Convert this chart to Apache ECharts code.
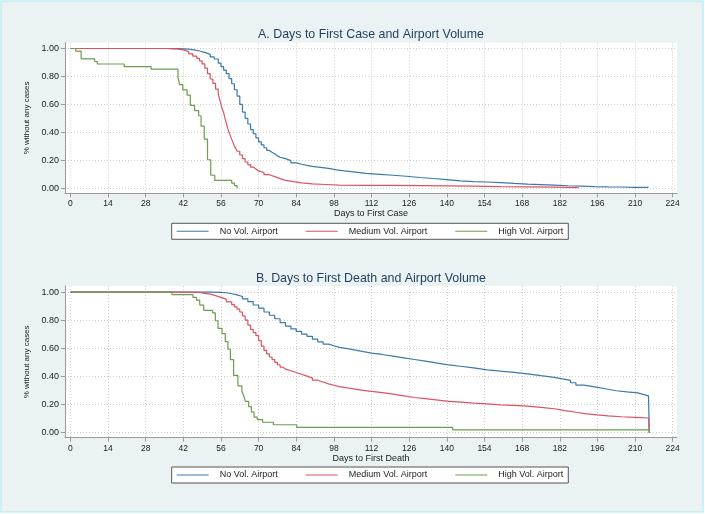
<!DOCTYPE html>
<html>
<head>
<meta charset="utf-8">
<script src="https://cdn.jsdelivr.net/npm/echarts@6/dist/echarts.min.js"></script>
<style>
html,body{margin:0;padding:0;background:#ffffff;}
#chart{width:705px;height:514px;}
</style>
</head>
<body>
<div id="chart"></div>
<script>
// ---- Data ----
const seriesNames = ['No Vol. Airport', 'Medium Vol. Airport', 'High Vol. Airport'];
const xTicks = [0, 14, 28, 42, 56, 70, 84, 98, 112, 126, 140, 154, 168, 182, 196, 210, 224];
const yTicks = [0, 0.2, 0.4, 0.6, 0.8, 1.0];
const titleA = 'A. Days to First Case and Airport Volume';
const titleB = 'B. Days to First Death and Airport Volume';
const xNameA = 'Days to First Case';
const xNameB = 'Days to First Death';
const yName = '% without any cases';

// Panel A: days to first case (day, survival)
const caseNoVol = [[0,1],[38,1],[40,0.998],[42,0.995],[44,0.99],[46,0.982],[48,0.972],[50,0.958],[52,0.94],[53.5,0.925],[55,0.895],[56,0.87],[57,0.845],[58,0.82],[59,0.785],[60,0.748],[61,0.705],[62,0.66],[63,0.6],[64,0.545],[65,0.5],[66,0.46],[67,0.42],[68,0.39],[69,0.36],[70,0.332],[71,0.31],[72,0.29],[73,0.271],[74,0.257],[75,0.245],[76,0.232],[77,0.222],[78,0.212],[80,0.198],[82,0.182],[84,0.172],[86,0.164],[88,0.157],[90,0.15],[93,0.142],[96,0.132],[99,0.124],[102,0.116],[106,0.107],[110,0.1],[115,0.093],[120,0.086],[125,0.077],[130,0.07],[135,0.062],[140,0.053],[145,0.048],[150,0.045],[155,0.041],[160,0.035],[165,0.03],[170,0.026],[175,0.022],[180,0.018],[185,0.015],[190,0.012],[195,0.01],[200,0.009],[205,0.007],[210,0.006],[215,0.005]];
const caseMedVol = [[0,1],[34,1],[36,0.998],[38,0.995],[40,0.99],[42,0.978],[44,0.962],[45.5,0.945],[47,0.93],[48,0.912],[49,0.89],[50,0.86],[51,0.82],[52,0.782],[53,0.75],[54,0.71],[55,0.675],[55.5,0.635],[56,0.6],[56.5,0.565],[57,0.54],[57.5,0.5],[58,0.465],[58.5,0.43],[59,0.4],[59.5,0.375],[60,0.35],[60.5,0.325],[61,0.3],[61.5,0.285],[62,0.265],[63,0.238],[64,0.212],[65,0.188],[66,0.168],[67,0.152],[68,0.138],[69,0.124],[70,0.113],[72,0.097],[74,0.083],[76,0.069],[78,0.057],[80,0.047],[83,0.038],[86,0.031],[90,0.027],[95,0.023],[100,0.021],[110,0.02],[120,0.019],[130,0.017],[140,0.015],[150,0.012],[160,0.01],[170,0.008],[180,0.005],[189,0.002]];
const caseHighVol = [[0,1],[2,0.981],[4,0.926],[9,0.907],[10,0.889],[20,0.87],[30,0.852],[40,0.796],[40.6,0.741],[41.8,0.704],[43.4,0.667],[44.6,0.593],[46.2,0.556],[47.7,0.519],[48.6,0.444],[49.8,0.352],[51,0.204],[52.2,0.093],[53.7,0.056],[60,0.037],[61,0.019],[62,0]];

// Panel B: days to first death (day, survival)
const deathNoVol = [[0,1],[48,1],[52,0.998],[56,0.995],[58,0.988],[60,0.98],[62,0.968],[64,0.952],[66,0.932],[68,0.908],[70,0.885],[72,0.858],[74,0.835],[76,0.81],[78,0.783],[80,0.758],[82,0.738],[84,0.72],[86,0.7],[88,0.685],[90,0.665],[92,0.645],[94,0.63],[96,0.618],[98,0.607],[100,0.598],[103,0.587],[106,0.576],[109,0.566],[112,0.556],[116,0.544],[120,0.532],[124,0.52],[128,0.508],[132,0.496],[136,0.484],[140,0.472],[145,0.46],[150,0.447],[155,0.437],[160,0.428],[165,0.418],[170,0.405],[175,0.393],[180,0.382],[183,0.372],[186,0.355],[188,0.338],[191,0.325],[195,0.312],[199,0.298],[203,0.29],[207,0.283],[211,0.272],[213,0.262],[215,0.256],[215.3,0]];
const deathMedVol = [[0,1],[40,1],[44,0.997],[48,0.99],[50,0.985],[52,0.975],[54,0.962],[56,0.948],[58,0.93],[60,0.91],[61,0.895],[62,0.878],[63,0.858],[64,0.83],[65,0.8],[66,0.765],[67,0.735],[68,0.712],[69,0.69],[70,0.655],[71,0.615],[72,0.585],[73,0.56],[74,0.538],[75,0.52],[76,0.5],[77,0.483],[78,0.466],[79,0.452],[80,0.44],[82,0.428],[84,0.415],[86,0.402],[88,0.388],[90,0.373],[92,0.36],[94,0.347],[96,0.337],[98,0.327],[100,0.318],[103,0.31],[106,0.3],[109,0.293],[112,0.284],[116,0.274],[120,0.262],[124,0.25],[128,0.242],[132,0.233],[136,0.224],[140,0.217],[145,0.21],[150,0.204],[155,0.198],[160,0.194],[165,0.188],[170,0.18],[175,0.17],[180,0.157],[184,0.145],[188,0.134],[192,0.126],[196,0.119],[200,0.113],[205,0.109],[210,0.104],[215,0.098],[215.3,0]];
const deathHighVol = [[0,1],[37.8,0.981],[45.6,0.962],[46.9,0.943],[48.1,0.907],[49.6,0.87],[52.9,0.852],[53.9,0.796],[54.9,0.741],[56.4,0.704],[57.6,0.648],[58.6,0.593],[59.5,0.519],[60.7,0.407],[62.3,0.333],[63.8,0.296],[64.5,0.259],[65.1,0.222],[66.3,0.185],[67.3,0.148],[68.3,0.111],[69.5,0.093],[71.5,0.074],[75.5,0.056],[84.2,0.037],[142.2,0.019],[215.3,0]];

// ---- Styling ----
const colors = ['#3a78ad', '#df5261', '#6c9d52'];
const FONT = "'Liberation Sans', Arial, sans-serif";
const BG = '#eaf2f3';

function makeX(gridIndex, name) {
  return {
    type: 'value', gridIndex: gridIndex, min: -2, max: 225.6,
    name: name, nameLocation: 'middle', nameGap: 15,
    nameTextStyle: { fontFamily: FONT, fontSize: 9, color: '#222' },
    axisLine: { show: true, onZero: false, lineStyle: { color: '#9a9a9a', width: 1 } },
    axisTick: { show: true, length: 4, customValues: xTicks, lineStyle: { color: '#9a9a9a' } },
    axisLabel: { customValues: xTicks, margin: 6, fontFamily: FONT, fontSize: 8.5, color: '#222' },
    splitLine: { show: true, lineStyle: { color: '#cfcfcf', type: [1, 2], width: 1 } }
  };
}
function makeY(gridIndex) {
  return {
    type: 'value', gridIndex: gridIndex, min: -0.036, max: 1.043,
    name: yName, nameLocation: 'middle', nameGap: 27, nameRotate: 90,
    nameTextStyle: { fontFamily: FONT, fontSize: 8, color: '#222' },
    axisLine: { show: true, onZero: false, lineStyle: { color: '#9a9a9a', width: 1 } },
    axisTick: { show: true, length: 4, customValues: yTicks, lineStyle: { color: '#9a9a9a' } },
    axisLabel: { customValues: yTicks, margin: 6, fontFamily: FONT, fontSize: 9, color: '#222',
      formatter: function (v) { return v.toFixed(2); } },
    splitLine: { show: true, lineStyle: { color: '#cfcfcf', type: [1, 2], width: 1 } }
  };
}
function makeSeries(name, data, idx, color) {
  return {
    name: name, type: 'line', step: 'end', data: data,
    xAxisIndex: idx, yAxisIndex: idx,
    symbol: 'none', showSymbol: false, color: color,
    lineStyle: { width: 1.2, color: color }, animation: false, z: 3
  };
}
function makeLegend(top) {
  return {
    data: seriesNames, orient: 'horizontal', left: 171.7, top: top,
    icon: 'rect', itemWidth: 32, itemHeight: 1, itemGap: 28,
    backgroundColor: '#ffffff', borderColor: '#555555', borderWidth: 1, borderRadius: 0,
    padding: [2, 5, 2, 5], selectedMode: false,
    textStyle: { fontFamily: FONT, fontSize: 9, color: '#222', lineHeight: 12, padding: [0, 0, 0, 6] }
  };
}

const chart = echarts.init(document.getElementById('chart'), null, { renderer: 'canvas' });
chart.setOption({
  backgroundColor: '#ffffff',
  animation: false,
  graphic: [{
    type: 'rect', z: -10, silent: true,
    shape: { x: 1, y: 1, width: 702, height: 511 },
    style: { fill: BG, stroke: '#c4eef4', lineWidth: 1.5 }
  }],
  title: [
    { text: titleA, left: 371, top: 27.5, textAlign: 'center', padding: 0,
      textStyle: { fontFamily: FONT, fontSize: 12.4, fontWeight: 'normal', color: '#1e3e5c', lineHeight: 14 } },
    { text: titleB, left: 371, top: 272, textAlign: 'center', padding: 0,
      textStyle: { fontFamily: FONT, fontSize: 12.4, fontWeight: 'normal', color: '#1e3e5c', lineHeight: 14 } }
  ],
  legend: [makeLegend(223.3), makeLegend(467)],
  grid: [
    { left: 65, top: 42.5, width: 612, height: 150.8, show: true, backgroundColor: '#ffffff', borderWidth: 0 },
    { left: 65, top: 286, width: 612, height: 151.7, show: true, backgroundColor: '#ffffff', borderWidth: 0 }
  ],
  xAxis: [makeX(0, xNameA), makeX(1, xNameB)],
  yAxis: [makeY(0), makeY(1)],
  series: [
    makeSeries(seriesNames[0], caseNoVol, 0, colors[0]),
    makeSeries(seriesNames[1], caseMedVol, 0, colors[1]),
    makeSeries(seriesNames[2], caseHighVol, 0, colors[2]),
    makeSeries(seriesNames[0], deathNoVol, 1, colors[0]),
    makeSeries(seriesNames[1], deathMedVol, 1, colors[1]),
    makeSeries(seriesNames[2], deathHighVol, 1, colors[2])
  ]
});
</script>
</body>
</html>
